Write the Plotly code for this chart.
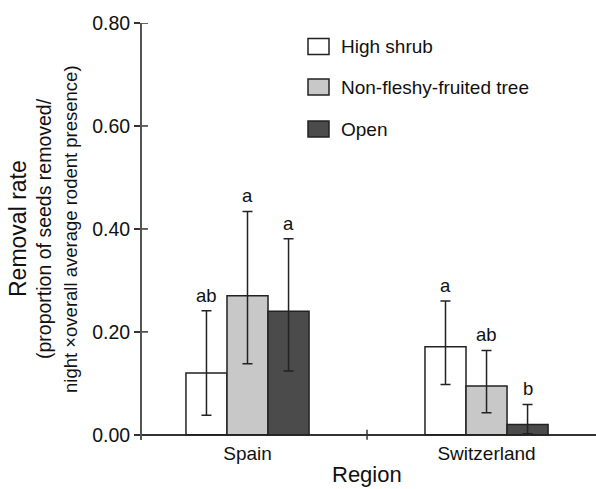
import plotly.graph_objects as go

# ---- data ----
regions = ["Spain", "Switzerland"]
habitats = ["High shrub", "Non-fleshy-fruited tree", "Open"]
means = {
    "High shrub": [0.120, 0.171],
    "Non-fleshy-fruited tree": [0.270, 0.095],
    "Open": [0.240, 0.020],
}
upper = {
    "High shrub": [0.241, 0.260],
    "Non-fleshy-fruited tree": [0.434, 0.164],
    "Open": [0.381, 0.059],
}
lower = {
    "High shrub": [0.038, 0.098],
    "Non-fleshy-fruited tree": [0.138, 0.043],
    "Open": [0.124, 0.002],
}
letters = {
    "High shrub": ["ab", "a"],
    "Non-fleshy-fruited tree": ["a", "ab"],
    "Open": ["a", "b"],
}
y_ticks = [0.0, 0.2, 0.4, 0.6, 0.8]
y_ticktext = ["0.00", "0.20", "0.40", "0.60", "0.80"]

# ---- styles ----
fills = {"High shrub": "#ffffff", "Non-fleshy-fruited tree": "#c8c8c8", "Open": "#4b4b4b"}
edge = "#222222"
FONT = "Liberation Sans, Arial, Helvetica, sans-serif"
W, H = 596, 489
ML, MR, MT, MB = 142, 0, 23, 49
PW, PH = W - ML - MR, H - MT - MB
BARGAP = 0.485
xr = [-0.4414, 1.458]
yr = [-0.01, 0.80]

def px(xp):
    return (xp - ML) / PW

def py(yp):
    return (H - MB - yp) / PH

xpos = list(range(len(regions)))
fig = go.Figure()
for h in habitats:
    m = means[h]
    fig.add_trace(go.Bar(
        x=xpos, y=m, name=h,
        marker=dict(color=fills[h], line=dict(color=edge, width=1.5)),
        error_y=dict(type="data", symmetric=False,
                     array=[u - v for u, v in zip(upper[h], m)],
                     arrayminus=[v - l for v, l in zip(m, lower[h])],
                     color=edge, thickness=1.5, width=5),
        showlegend=False,
    ))

bw = (1 - BARGAP) / len(habitats)
ann = []
shapes = []
for j, h in enumerate(habitats):
    for i in xpos:
        ann.append(dict(x=i + (j - 1) * bw, y=upper[h][i], xref="x", yref="y",
                        text=letters[h][i], showarrow=False, yanchor="bottom",
                        yshift=3, font=dict(size=18.5, color="#111", family=FONT)))

# y title
ytitles = [("Removal rate", 23, 18), ("(proportion of seeds removed/", 19.5, 44),
           ("night \u00d7overall average rodent presence)", 18.5, 70)]
for t, s, xp in ytitles:
    ann.append(dict(x=px(xp), y=py(229), xref="paper", yref="paper", text=t,
                    textangle=-90, showarrow=False, xanchor="center", yanchor="middle",
                    font=dict(size=s, color="#111", family=FONT)))
# x title
ann.append(dict(x=px(367), y=py(475), xref="paper", yref="paper", text="Region",
                showarrow=False, xanchor="center", yanchor="middle",
                font=dict(size=22, color="#111", family=FONT)))

# legend (manual)
leg_y = [46.5, 87, 129]
for h, yy in zip(habitats, leg_y):
    shapes.append(dict(type="rect", xref="paper", yref="paper",
                       x0=px(308), x1=px(329), y0=py(yy - 8), y1=py(yy + 8),
                       fillcolor=fills[h], line=dict(color=edge, width=1.5)))
    ann.append(dict(x=px(339), y=py(yy), xref="paper", yref="paper", text=h,
                    showarrow=False, xanchor="left", yanchor="middle",
                    font=dict(size=19, color="#111", family=FONT)))

# inside halves of y ticks
for tv in y_ticks:
    shapes.append(dict(type="line", xref="paper", yref="y", xsizemode="pixel", xanchor=0,
                       x0=0, x1=6, y0=tv, y1=tv, line=dict(color="#333", width=1.5)))
# separator tick on x axis between regions
shapes.append(dict(type="line", xref="x", yref="y", ysizemode="pixel", yanchor=0,
                   x0=0.5, x1=0.5, y0=-5, y1=5, line=dict(color="#333", width=1.5)))

fig.update_layout(
    width=W, height=H, margin=dict(l=ML, r=MR, t=MT, b=MB, autoexpand=False),
    paper_bgcolor="white", plot_bgcolor="white",
    barmode="group", bargap=BARGAP, bargroupgap=0,
    font=dict(family=FONT, color="#111"),
    annotations=ann, shapes=shapes,
    xaxis=dict(range=xr, tickvals=xpos, ticktext=regions, showgrid=False,
               zeroline=False, showline=False, ticks="",
               tickfont=dict(size=19, family=FONT, color="#111")),
    yaxis=dict(range=yr, tickvals=y_ticks, ticktext=y_ticktext, showgrid=False,
               zeroline=True, zerolinecolor="#333", zerolinewidth=1.5,
               showline=True, linecolor="#555", linewidth=2,
               ticks="outside", ticklen=6, tickwidth=1.5, tickcolor="#333",
               tickfont=dict(size=19.5, family=FONT, color="#111")),
)

fig.write_html("out.html", config={"displayModeBar": False},
               post_script="document.body.style.margin='0';document.body.style.overflow='hidden';")
